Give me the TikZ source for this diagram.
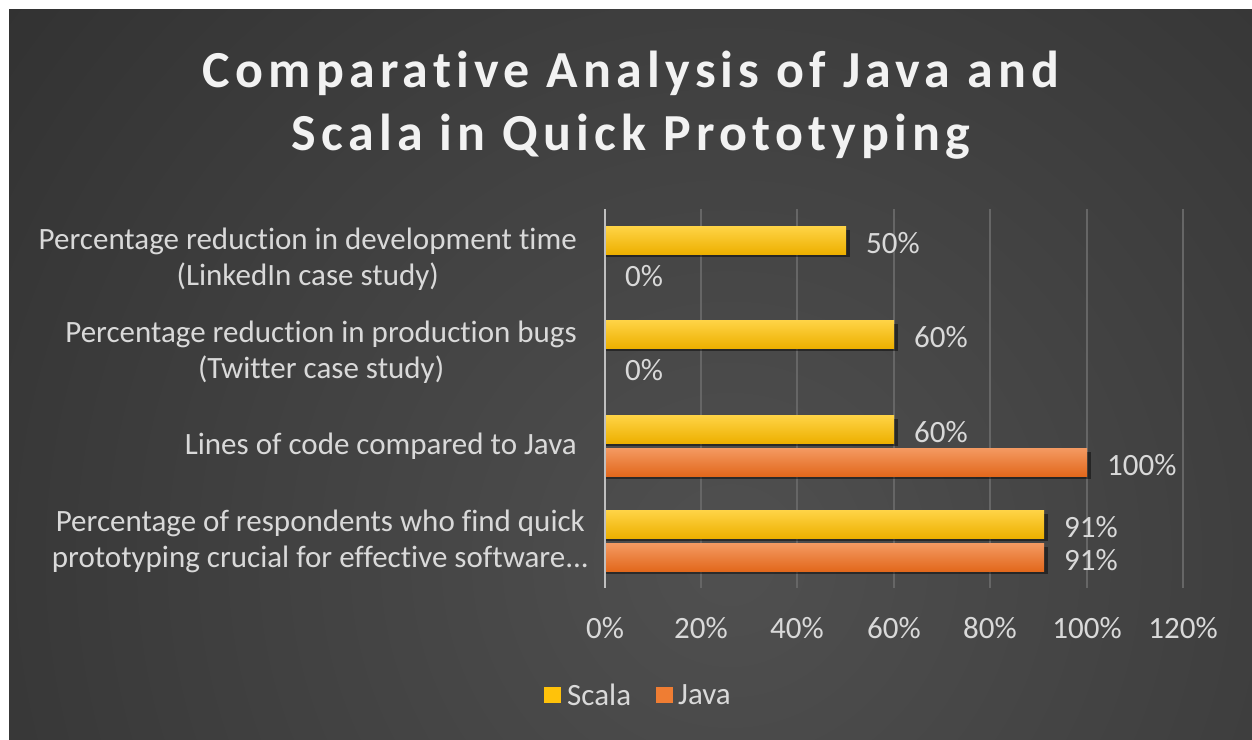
\documentclass[tikz,border=0pt]{standalone}
\usepackage{fontspec}
\setmainfont{Carlito}[Ligatures={NoCommon}]
\newfontfamily\titlefont{Carlito}[LetterSpace=10, Ligatures={NoCommon}]
\usepackage{xcolor}
\usetikzlibrary{positioning}

\definecolor{bgdark}{HTML}{222222}
\definecolor{bglight}{HTML}{505050}
\definecolor{txtgray}{HTML}{D9D9D9}
\definecolor{titlewhite}{HTML}{F2F2F2}
\definecolor{gridgray}{HTML}{666666}
\definecolor{axisgray}{HTML}{BFBFBF}
\definecolor{scalatop}{HTML}{FFD447}
\definecolor{scalamid}{HTML}{FFC20A}
\definecolor{scalabot}{HTML}{EDB000}
\definecolor{javatop}{HTML}{F49A62}
\definecolor{javamid}{HTML}{EF7D33}
\definecolor{javabot}{HTML}{E2681C}

\begin{document}
\begin{tikzpicture}[
    x=1pt, y=-1pt,
    font=\fontsize{31}{36}\selectfont,
    titletext/.style={anchor=base, text=titlewhite, font=\titlefont\bfseries\fontsize{52}{60}\selectfont},
    catlabel/.style={anchor=east, align=center, text=txtgray, inner sep=0pt},
    ticklabel/.style={anchor=base, text=txtgray, inner sep=0pt},
    vallabel/.style={anchor=base west, text=txtgray, inner sep=0pt},
    legtext/.style={anchor=west, text=txtgray, inner sep=0pt},
    gridline/.style={draw=gridgray, line width=1.2pt},
    scalabar/.style={top color=scalatop, middle color=scalamid, bottom color=scalabot},
    javabar/.style={top color=javatop, middle color=javamid, bottom color=javabot},
    barshadow/.style={fill=black, opacity=0.45}
]

\useasboundingbox (0,0) rectangle (1252,739);
\fill[white] (0,0) rectangle (1252,739);

% background
\begin{scope}
  \clip (9,9) rectangle (1252,739);
  \fill[bgdark] (9,9) rectangle (1252,739);
  \shade[inner color=bglight, outer color=bgdark] (730,560) circle (1400);
\end{scope}

% title
\node[titletext] (title1) at (631,87) {Comparative Analysis of Java and};
\node[titletext] (title2) at (631,150) {Scala in Quick Prototyping};

% grid
\draw[gridline] (701,209) -- (701,588);
\draw[gridline] (797,209) -- (797,588);
\draw[gridline] (894,209) -- (894,588);
\draw[gridline] (990,209) -- (990,588);
\draw[gridline] (1087,209) -- (1087,588);
\draw[gridline] (1183,209) -- (1183,588);

% bars
\fill[barshadow] (605,230) rectangle (850,257);
\shade[scalabar] (605,226) rectangle (846,254);
\fill[barshadow] (605,324) rectangle (898,351);
\shade[scalabar] (605,320) rectangle (894,348);
\fill[barshadow] (605,419) rectangle (898,446);
\shade[scalabar] (605,415) rectangle (894,443);
\fill[barshadow] (605,452) rectangle (1091,479);
\shade[javabar] (605,448) rectangle (1087,476);
\fill[barshadow] (605,514) rectangle (1048,541);
\shade[scalabar] (605,510) rectangle (1044,538);
\fill[barshadow] (605,547) rectangle (1048,574);
\shade[javabar] (605,543) rectangle (1044,571);

\draw[axisgray, line width=2pt] (605,209) -- (605,588);

% value labels
\node[vallabel] (v1s) at (866,253) {50\%};
\node[vallabel] (v1j) at (625,286) {0\%};
\node[vallabel] (v2s) at (914,347) {60\%};
\node[vallabel] (v2j) at (625,380) {0\%};
\node[vallabel] (v3s) at (914,442) {60\%};
\node[vallabel] (v3j) at (1107,475) {100\%};
\node[vallabel] (v4s) at (1064,537) {91\%};
\node[vallabel] (v4j) at (1064,570) {91\%};

% category labels
\node[catlabel] (c1) at (577,259) {Percentage reduction in development time\\(LinkedIn case study)};
\node[catlabel] (c2) at (577,352) {Percentage reduction in production bugs\\(Twitter case study)};
\node[catlabel] (c3) at (577,446) {Lines of code compared to Java};
\node[catlabel] (c4) at (589,541) {Percentage of respondents who find quick\\prototyping crucial for effective software...};

% axis ticks
\node[ticklabel] (t0) at (605,638) {0\%};
\node[ticklabel] (t20) at (701,638) {20\%};
\node[ticklabel] (t40) at (797,638) {40\%};
\node[ticklabel] (t60) at (894,638) {60\%};
\node[ticklabel] (t80) at (990,638) {80\%};
\node[ticklabel] (t100) at (1087,638) {100\%};
\node[ticklabel] (t120) at (1183,638) {120\%};

% legend
\fill[scalamid] (544,687) rectangle (561,703);
\node[legtext] (lscala) at (567,695) {Scala};
\fill[javamid] (656,687) rectangle (673,703);
\node[legtext] (ljava) at (678,695) {Java};

\end{tikzpicture}
\end{document}
